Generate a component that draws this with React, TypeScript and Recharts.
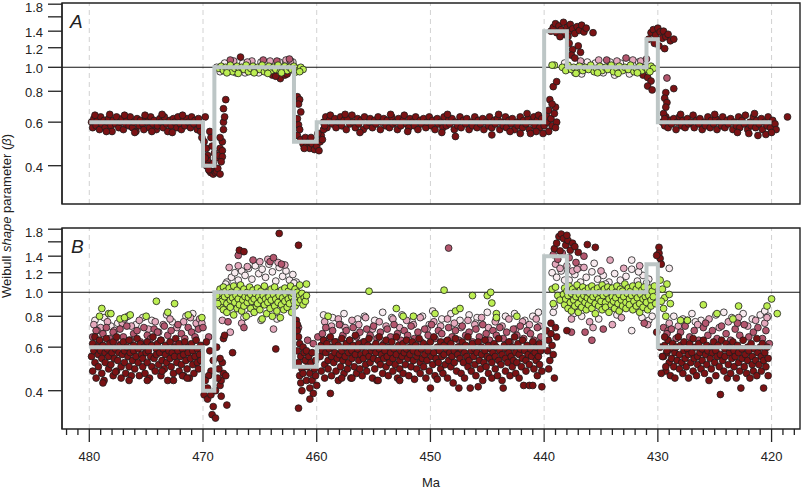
import { ComposedChart, Line, ReferenceArea, ReferenceLine, Scatter, XAxis, YAxis } from "recharts";

type Pt = [number, number];

const majorTicks = [480, 470, 460, 450, 440, 430, 420];
const minorTicks = Array.from({ length: 65 }, (_, i) => 418 + i);
const yTicks = [0.4, 0.6, 0.8, 1.0, 1.2, 1.4, 1.6, 1.8];

// fitted step model (same in both panels)
const stepMa = [480, 470, 469, 462, 460, 440, 438, 431, 430, 420];
const stepBeta = [0.6, 0.4, 1.0, 0.5, 0.6, 1.4, 1.0, 1.3, 0.6, 0.6];

// ---------- panel A ----------
const aRedBands: Pt[] = [
  [479.8,.60],[479.7,.57],[479.6,.62],[479.4,.58],[479.3,.61],[479.1,.56],[479.0,.63],[478.9,.59],[478.7,.61],[478.6,.57],[478.4,.60],[478.3,.62],[478.1,.58],[478.0,.55],[477.9,.61],[477.7,.59],[477.6,.63],[477.4,.57],[477.3,.60],[477.1,.62],[477.0,.56],[476.8,.59],[476.7,.61],[476.5,.58],[476.4,.63],[476.2,.57],[476.1,.60],[475.9,.55],[475.8,.62],[475.6,.58],[475.5,.61],[475.3,.59],[475.2,.56],[475.0,.62],[474.9,.60],[474.7,.57],[474.6,.63],[474.4,.59],[474.3,.61],[474.1,.56],[474.0,.58],[473.8,.62],[473.7,.60],[473.5,.57],[473.4,.63],[473.2,.59],[473.1,.55],[472.9,.61],[472.8,.58],[472.6,.62],[472.5,.60],[472.3,.57],[472.2,.63],[472.0,.59],[471.9,.56],[471.7,.61],[471.6,.58],[471.4,.62],[471.3,.60],[471.1,.57],[471.0,.63],[470.8,.59],[470.7,.61],[470.5,.56],[470.4,.62],[470.3,.58],[479.5,.64],[478.2,.645],[476.9,.64],[475.1,.64],[473.6,.645],[471.8,.64],[478.5,.55],[476.0,.545],[474.5,.55],[472.7,.545],
  [459.4,.60],[459.2,.63],[459.1,.57],[458.9,.61],[458.8,.64],[458.6,.59],[458.4,.62],[458.3,.57],[458.1,.60],[457.9,.63],[457.8,.58],[457.6,.61],[457.4,.56],[457.3,.62],[457.1,.59],[456.9,.64],[456.8,.60],[456.6,.57],[456.4,.62],[456.3,.59],[456.1,.61],[455.9,.56],[455.8,.63],[455.6,.58],[455.4,.60],[455.3,.62],[455.1,.57],[454.9,.61],[454.8,.59],[454.6,.63],[454.4,.56],[454.3,.60],[454.1,.62],[453.9,.58],[453.8,.61],[453.6,.57],[453.4,.63],[453.3,.59],[453.1,.60],[452.9,.56],[452.8,.62],[452.6,.58],[452.4,.61],[452.3,.64],[452.1,.59],[451.9,.57],[451.8,.62],[451.6,.60],[451.4,.58],[451.3,.63],[451.1,.56],[450.9,.61],[450.8,.59],[450.6,.62],[450.4,.57],[450.3,.60],[450.1,.63],[449.9,.58],[449.8,.61],[449.6,.56],[449.4,.62],[449.3,.59],[449.1,.60],[448.9,.57],[448.8,.63],[448.6,.58],[448.4,.61],[448.3,.59],[448.1,.62],[447.9,.56],[447.8,.60],[447.6,.58],[447.4,.63],[447.3,.57],[447.1,.61],[446.9,.59],[446.8,.62],[446.6,.56],[446.4,.60],[446.3,.58],[446.1,.63],[445.9,.57],[445.8,.61],[445.6,.59],[445.4,.62],[445.3,.56],[445.1,.60],[444.9,.58],[444.8,.63],[444.6,.57],[444.4,.61],[444.3,.59],[444.1,.62],[443.9,.56],[443.8,.60],[443.6,.58],[443.4,.63],[443.3,.57],[443.1,.61],[442.9,.59],[442.8,.62],[442.6,.56],[442.4,.60],[442.3,.58],[442.1,.63],[441.9,.57],[441.8,.61],[441.6,.59],[441.4,.62],[441.3,.56],[441.1,.60],[440.9,.63],[440.8,.58],[440.6,.61],[440.5,.64],[440.4,.57],[447.8,.525],[444.6,.533],[456.2,.545],[452.0,.55],[449.0,.545],[443.0,.55],[440.7,.55],[457.5,.645],[453.5,.645],[448.5,.645],[444.0,.645],[441.5,.65],[442.1,.54],[441.2,.54],
  [429.6,.60],[429.4,.58],[429.3,.63],[429.1,.57],[428.9,.61],[428.8,.59],[428.6,.62],[428.4,.56],[428.3,.60],[428.1,.63],[427.9,.58],[427.8,.61],[427.6,.57],[427.4,.62],[427.3,.59],[427.1,.60],[426.9,.64],[426.8,.57],[426.6,.61],[426.4,.59],[426.3,.62],[426.1,.56],[425.9,.60],[425.8,.58],[425.6,.63],[425.4,.57],[425.3,.61],[425.1,.59],[424.9,.62],[424.8,.56],[424.6,.60],[424.4,.58],[424.3,.63],[424.1,.57],[423.9,.61],[423.8,.59],[423.6,.62],[423.4,.56],[423.3,.60],[423.1,.58],[422.9,.63],[422.8,.57],[422.6,.61],[422.4,.59],[422.3,.64],[422.1,.56],[421.9,.60],[421.8,.58],[421.6,.63],[421.4,.57],[421.3,.61],[421.1,.59],[420.9,.62],[420.8,.56],[420.6,.60],[420.4,.58],[420.3,.63],[420.1,.57],[419.9,.61],[419.7,.59],[419.6,.56],[418.6,.63],[421.2,.53],[422.0,.54],[420.5,.535],[420.0,.545],[423.0,.545],[428.0,.645],[425.0,.645],[421.5,.65],
];
const aRedSteps: Pt[] = [
  [470.2,.55],[470.1,.52],[469.9,.50],[469.8,.63],[469.7,.47],[469.6,.44],[469.6,.42],[469.5,.40],[469.4,.38],[469.3,.375],[469.1,.37],[469.0,.38],[468.9,.375],[468.8,.38],[468.7,.39],[468.5,.37],[469.4,.55],[469.3,.52],[469.2,.48],[469.0,.45],[468.9,.43],[468.6,.44],[468.5,.47],[469.1,.41],[469.8,.43],[469.7,.40],[469.5,.385],[468.3,.46],[468.3,.50],[468.5,.52],[468.2,.56],[468.2,.60],[468.1,.63],[468.2,.68],[468.0,.74],[468.3,.435],[468.4,.415],
  [466.7,1.10],[463.9,.93],[463.2,.90],[462.8,.93],[463.6,.92],[462.6,.94],
  [461.7,.76],[461.5,.74],[461.6,.71],[461.4,.66],[461.7,.62],[461.6,.585],[461.5,.56],[461.7,.53],[461.4,.51],[461.2,.49],[461.0,.52],[460.9,.48],[460.7,.50],[460.6,.47],[460.4,.49],[460.2,.465],[460.0,.48],[459.8,.46],[459.7,.50],[459.6,.53],[459.5,.51],[461.1,.47],[460.5,.52],[459.9,.54],[459.4,.56],[459.3,.58],
  [440.2,.62],[440.0,.58],[439.8,.64],[439.7,.60],[439.6,.67],[439.4,.62],[439.3,.58],[439.5,.74],[439.2,.835],[438.9,.875],[439.0,.69],[439.1,.65],[439.3,.71],[438.9,.60],[439.0,.57],[439.6,.55],[440.1,.54],
  [439.4,1.40],[439.2,1.45],[439.0,1.50],[438.9,1.38],[438.7,1.47],[438.5,1.42],[438.3,1.52],[438.2,1.36],[438.0,1.45],[437.8,1.40],[437.7,1.49],[437.5,1.43],[437.3,1.37],[437.1,1.46],[436.9,1.41],[436.7,1.48],[436.5,1.39],[436.3,1.44],[435.7,1.38],[437.9,1.33],[438.6,1.33],[437.8,1.25],[437.5,1.18],[437.6,1.12],[437.0,1.22],[437.3,1.09],[436.8,1.15],
  [431.3,.93],[430.9,.91],[430.6,.88],
  [430.8,1.30],[430.6,1.38],[430.4,1.42],[430.2,1.35],[430.0,1.44],[429.8,1.39],[429.6,1.31],[429.5,1.40],[429.3,1.33],[429.1,1.36],[428.9,1.28],[428.6,1.30],[430.3,1.25],[429.9,1.22],[429.4,1.19],
  [430.9,.84],[430.5,.81],[428.6,.82],[429.3,.79],[429.4,.75],[429.2,.72],[429.3,.69],[429.5,.65],[429.4,.62],
];
const aMauve: Pt[] = [[467.6,1.07],[464.7,1.07],[463.5,1.06],[462.4,1.08],[434.5,1.07],[432.8,1.09],[431.0,1.08],[429.2,.905]];
const aPink: Pt[] = [[467.3,1.06],[465.7,1.06],[464.1,1.06],[462.7,1.07],[462.3,1.06],[466.1,1.05],[436.8,1.06],[435.2,1.07],[433.6,1.06],[432.2,1.07],[431.5,1.06]];
const aPale: Pt[] = [
  [468.8,1.0],[468.5,.96],[467.7,1.04],[467.1,.95],[466.5,1.04],[465.9,1.03],[465.1,.95],[464.5,1.04],[463.7,1.03],[463.3,1.05],[462.9,.95],[462.5,1.04],[462.1,1.05],[468.1,1.04],[466.3,.95],[464.9,1.05],[467.5,1.05],
  [438.2,1.04],[437.3,.95],[436.2,1.05],[435.5,1.04],[434.8,.95],[434.2,1.05],[433.3,1.04],[432.5,.94],[431.7,1.05],[431.2,.95],[436.7,.94],[433.8,.93],
];
const aGreen: Pt[] = [
  [468.6,.99],[468.4,1.01],[468.2,.97],[468.0,1.00],[467.8,.98],[467.6,1.02],[467.4,.96],[467.2,.99],[467.0,1.01],[466.8,.97],[466.6,1.00],[466.4,.98],[466.2,1.02],[466.0,.96],[465.8,.99],[465.6,1.01],[465.4,.97],[465.2,1.00],[465.0,.98],[464.8,1.02],[464.6,.96],[464.4,.99],[464.2,1.01],[464.0,.97],[463.8,1.00],[463.6,.98],[463.4,1.02],[463.2,.96],[463.0,.99],[462.8,1.01],[462.6,.97],[462.4,1.00],[462.2,.98],[462.0,1.01],[461.8,.99],[461.6,.97],[461.4,1.00],[461.2,.98],[467.9,.95],[466.9,.945],[465.5,.95],[464.3,.945],[463.1,.95],[461.9,.955],[461.5,.96],
  [438.4,1.0],[438.1,.97],[437.9,1.02],[437.6,.98],[437.4,1.0],[437.1,.96],[436.9,1.01],[436.6,.97],[436.4,1.0],[436.1,.98],[435.9,1.02],[435.6,.96],[435.4,.99],[435.1,1.01],[434.9,.97],[434.6,1.0],[434.4,.98],[434.1,1.02],[433.9,.96],[433.6,.99],[433.4,1.01],[433.1,.97],[432.9,1.0],[432.6,.98],[432.4,1.02],[432.1,.96],[431.9,.99],[431.6,1.01],[431.4,.97],[431.1,1.0],[430.9,.98],[430.6,1.01],[430.4,.99],[437.2,.945],[435.3,.95],[433.5,.945],[431.8,.95],[430.7,.96],[439.1,1.02],[439.3,1.02],
];

// ---------- panel B ----------
const bRedBands: Pt[] = [
  [479.8,.55],[479.7,.62],[479.7,.48],[479.6,.58],[479.5,.66],[479.5,.52],[479.4,.45],[479.3,.60],[479.2,.56],[479.2,.50],[479.1,.64],[479.0,.58],[478.9,.47],[478.9,.54],[478.8,.61],[478.7,.44],[478.6,.57],[478.6,.52],[478.5,.65],[478.4,.59],[478.3,.49],[478.3,.55],[478.2,.62],[478.1,.51],[478.0,.57],[477.9,.46],[477.9,.63],[477.8,.54],[477.7,.59],[477.6,.48],[477.6,.66],[477.5,.53],[477.4,.57],[477.3,.61],[477.2,.50],[477.2,.45],[477.1,.56],[477.0,.63],[476.9,.52],[476.9,.58],[476.8,.47],[476.7,.60],[476.6,.55],[476.5,.64],[476.5,.50],[476.4,.57],[476.3,.46],[476.2,.53],[476.1,.61],[476.1,.58],[476.0,.49],[475.9,.55],[475.8,.65],[475.7,.52],[475.7,.59],[475.6,.46],[475.5,.62],[475.4,.56],[475.3,.50],[475.3,.54],[475.2,.60],[475.1,.47],[475.0,.57],[474.9,.63],[474.9,.52],[474.8,.58],[474.7,.45],[474.6,.55],[474.5,.61],[474.5,.50],[474.4,.66],[474.3,.54],[474.2,.48],[474.1,.59],[474.1,.56],[474.0,.62],[473.9,.51],[473.8,.57],[473.7,.46],[473.7,.64],[473.6,.53],[473.5,.59],[473.4,.49],[473.3,.56],[473.3,.61],[473.2,.52],[473.1,.44],[473.0,.58],[472.9,.54],[472.9,.63],[472.8,.50],[472.7,.57],[472.6,.47],[472.5,.60],[472.5,.55],[472.4,.65],[472.3,.52],[472.2,.58],[472.1,.48],[472.1,.62],[472.0,.55],[471.9,.51],[471.8,.59],[471.7,.46],[471.7,.56],[471.6,.63],[471.5,.53],[471.4,.49],[471.3,.60],[471.3,.57],[471.2,.45],[471.1,.54],[471.0,.62],[470.9,.51],[470.9,.58],[470.8,.47],[470.7,.55],[470.6,.64],[470.5,.52],[470.5,.59],[470.4,.49],[470.3,.56],[470.2,.61],[470.2,.53],[478.8,.43],[477.7,.476],[476.5,.44],[473.6,.48],[472.6,.44],[471.8,.46],[471.4,.45],[474.9,.44],
  [459.7,.55],[459.6,.61],[459.6,.48],[459.5,.58],[459.4,.64],[459.3,.51],[459.3,.45],[459.2,.57],[459.1,.62],[459.0,.53],[459.0,.49],[458.9,.59],[458.8,.66],[458.7,.55],[458.7,.46],[458.6,.60],[458.5,.52],[458.4,.57],[458.4,.63],[458.3,.48],[458.2,.54],[458.1,.61],[458.1,.44],[458.0,.56],[457.9,.50],[457.8,.65],[457.8,.58],[457.7,.53],[457.6,.47],[457.5,.60],[457.5,.55],[457.4,.62],[457.3,.49],[457.2,.57],[457.2,.52],[457.1,.64],[457.0,.45],[456.9,.58],[456.9,.54],[456.8,.61],[456.7,.50],[456.6,.56],[456.6,.67],[456.5,.47],[456.4,.59],[456.3,.53],[456.3,.62],[456.2,.49],[456.1,.56],[456.0,.60],[456.0,.46],[455.9,.54],[455.8,.63],[455.7,.51],[455.7,.57],[455.6,.48],[455.5,.61],[455.4,.55],[455.4,.65],[455.3,.52],[455.2,.58],[455.1,.45],[455.1,.60],[455.0,.54],[454.9,.49],[454.8,.62],[454.8,.57],[454.7,.44],[454.6,.53],[454.5,.59],[454.5,.66],[454.4,.51],[454.3,.56],[454.2,.47],[454.2,.61],[454.1,.54],[454.0,.58],[453.9,.50],[453.9,.64],[453.8,.55],[453.7,.46],[453.6,.60],[453.6,.52],[453.5,.57],[453.4,.63],[453.3,.48],[453.3,.54],[453.2,.59],[453.1,.51],[453.0,.66],[453.0,.56],[452.9,.45],[452.8,.61],[452.7,.53],[452.7,.49],[452.6,.58],[452.5,.55],[452.4,.62],[452.4,.47],[452.3,.57],[452.2,.51],[452.1,.64],[452.1,.59],[452.0,.54],[451.9,.46],[451.8,.60],[451.8,.56],[451.7,.50],[451.6,.63],[451.5,.53],[451.5,.58],[451.4,.445],[451.3,.61],[451.2,.55],[451.2,.49],[451.1,.57],[451.0,.65],[450.9,.52],[450.9,.47],[450.8,.59],[450.7,.54],[450.6,.62],[450.6,.50],[450.5,.56],[450.4,.45],[450.3,.60],[450.3,.53],[450.2,.58],[450.1,.48],[450.0,.63],[450.0,.41],[449.9,.55],[449.8,.51],[449.7,.57],[449.7,.66],[449.6,.46],[449.5,.54],[449.4,.60],[449.4,.445],[449.3,.52],[449.2,.58],[449.1,.49],[449.1,.63],[449.0,.55],[448.9,.47],[448.8,.61],[448.8,.56],[448.7,.51],[448.6,.59],[448.5,.45],[448.5,.64],[448.4,.53],[448.3,.57],[448.2,.50],[448.2,.62],[448.1,.55],[448.0,.43],[447.9,.58],[447.9,.52],[447.8,.65],[447.7,.48],[447.6,.56],[447.6,.60],[447.5,.41],[447.4,.54],[447.3,.59],[447.3,.47],[447.2,.63],[447.1,.52],[447.0,.57],[447.0,.45],[446.9,.61],[446.8,.55],[446.7,.50],[446.7,.66],[446.6,.53],[446.5,.41],[446.4,.58],[446.4,.48],[446.3,.62],[446.2,.55],[446.1,.51],[446.1,.59],[446.0,.46],[445.9,.57],[445.8,.415],[445.8,.63],[445.7,.53],[445.6,.49],[445.5,.60],[445.5,.56],[445.4,.44],[445.3,.52],[445.2,.58],[445.2,.64],[445.1,.50],[445.0,.55],[444.9,.47],[444.9,.61],[444.8,.54],[444.7,.59],[444.6,.45],[444.6,.52],[444.5,.57],[444.4,.62],[444.3,.49],[444.3,.55],[444.2,.60],[444.1,.46],[444.0,.53],[444.0,.65],[443.9,.58],[443.8,.51],[443.7,.56],[443.7,.44],[443.6,.41],[443.5,.61],[443.4,.54],[443.4,.48],[443.3,.59],[443.2,.52],[443.1,.63],[443.1,.57],[443.0,.46],[442.9,.55],[442.8,.50],[442.8,.60],[442.7,.53],[442.6,.66],[442.5,.47],[442.5,.57],[442.4,.52],[442.3,.62],[442.2,.45],[442.2,.56],[442.1,.59],[442.0,.50],[441.9,.54],[441.9,.64],[441.8,.42],[441.7,.58],[441.6,.48],[441.6,.53],[441.5,.61],[441.4,.56],[441.3,.42],[441.3,.51],[441.2,.59],[441.1,.55],[441.0,.63],[441.0,.42],[440.9,.49],[440.8,.57],[440.7,.53],[440.7,.60],[440.6,.46],[440.5,.55],[440.4,.62],[440.4,.51],[440.3,.58],[440.2,.415],[440.2,.48],[458.8,.39],[457.8,.45],[456.9,.45],[454.6,.44],[452.7,.44],
  [429.5,.55],[429.4,.61],[429.3,.48],[429.2,.57],[429.1,.64],[429.0,.52],[428.9,.46],[428.9,.59],[428.8,.54],[428.7,.62],[428.6,.50],[428.5,.57],[428.5,.45],[428.4,.60],[428.3,.53],[428.2,.66],[428.1,.49],[428.1,.56],[428.0,.61],[427.9,.52],[427.8,.47],[427.7,.58],[427.7,.63],[427.6,.54],[427.5,.50],[427.4,.59],[427.3,.45],[427.3,.56],[427.2,.62],[427.1,.52],[427.0,.57],[426.9,.48],[426.9,.65],[426.8,.54],[426.7,.60],[426.6,.46],[426.5,.55],[426.5,.51],[426.4,.62],[426.3,.57],[426.2,.49],[426.1,.59],[426.1,.53],[426.0,.64],[425.9,.47],[425.8,.56],[425.7,.61],[425.7,.51],[425.6,.58],[425.5,.44],[425.4,.54],[425.3,.60],[425.3,.49],[425.2,.57],[425.1,.63],[425.0,.52],[424.9,.46],[424.9,.58],[424.8,.55],[424.7,.61],[424.6,.50],[424.5,.56],[424.5,.386],[424.4,.64],[424.3,.53],[424.2,.48],[424.1,.59],[424.1,.55],[424.0,.62],[423.9,.45],[423.8,.51],[423.7,.57],[423.7,.60],[423.6,.47],[423.5,.54],[423.4,.63],[423.3,.50],[423.3,.58],[423.2,.55],[423.1,.45],[423.0,.61],[422.9,.52],[422.9,.57],[422.8,.48],[422.7,.41],[422.6,.59],[422.6,.54],[422.5,.64],[422.4,.50],[422.3,.56],[422.2,.47],[422.1,.60],[422.1,.53],[422.0,.58],[421.9,.45],[421.8,.62],[421.7,.51],[421.7,.55],[421.6,.48],[421.5,.59],[421.4,.53],[421.3,.65],[421.3,.46],[421.2,.57],[421.1,.51],[421.0,.60],[420.9,.55],[420.9,.48],[420.8,.62],[420.7,.41],[420.7,.53],[420.6,.57],[420.5,.50],[420.4,.60],[420.3,.54],[420.3,.46],
];
const bRedSteps: Pt[] = [
  [469.9,.385],[469.6,.37],[469.3,.385],[469.1,.345],[469.2,.32],[468.9,.31],[467.9,.35],[468.9,.40],[468.5,.42],[468.4,.44],[468.2,.47],[468.6,.49],[468.3,.52],[468.5,.54],[468.2,.65],[468.1,.67],[467.4,.57],[468.7,.45],[468.0,.46],[469.3,.48],[469.5,.46],[469.8,.44],[469.7,.63],[469.4,.58],[469.1,.53],[468.8,.60],[469.6,.41],[468.4,.38],
  [466.8,1.48],[466.4,1.46],[463.3,1.73],[461.6,1.55],[463.6,.59],
  [461.7,.70],[461.6,.66],[461.5,.62],[461.7,.58],[461.4,.55],[461.6,.52],[461.3,.49],[461.5,.46],[461.4,.43],[461.2,.60],[461.1,.57],[461.0,.53],[461.2,.47],[460.9,.44],[460.8,.50],[460.7,.55],[460.6,.41],[460.6,.47],[460.5,.52],[460.4,.44],[460.3,.39],[460.2,.49],[460.1,.46],[460.0,.42],[460.6,.37],[461.6,.34],[461.3,.40],[460.9,.58],[460.4,.57],[460.1,.53],[461.8,.77],[461.7,.74],
  [439.8,.70],[439.6,.64],[439.7,.58],[439.5,.53],[439.4,.68],[439.6,.49],[439.3,.61],[439.2,.56],[439.0,.72],[439.1,.45],[439.4,.75],[438.9,.66],[438.0,.70],
  [439.1,1.50],[438.9,1.58],[438.7,1.68],[438.5,1.72],[438.3,1.65],[438.1,1.55],[437.9,1.62],[437.7,1.48],[437.5,1.58],[437.3,1.53],[437.0,1.45],[436.2,1.56],[435.5,1.52],[438.6,1.47],[438.0,1.70],
  [429.9,1.52],[429.9,1.44],[429.8,1.37],[430.1,1.41],[429.7,1.30],[430.1,.69],
  [429.8,.60],[429.6,.55],[429.4,.66],[429.3,.50],[429.7,.47],[429.2,.58],
];
const bMauve: Pt[] = [
  [479.7,.66],[479.4,.70],[479.1,.63],[478.8,.68],[478.5,.72],[478.2,.65],[477.9,.69],[477.6,.62],[477.3,.71],[477.0,.66],[476.7,.73],[476.4,.64],[476.1,.68],[475.8,.70],[475.5,.63],[475.2,.72],[474.9,.67],[474.6,.65],[474.3,.71],[474.0,.69],[473.7,.64],[473.4,.73],[473.1,.67],[472.8,.70],[472.5,.62],[472.2,.74],[471.9,.68],[471.6,.65],[471.3,.72],[471.0,.69],[470.7,.66],[470.4,.71],[478.0,.61],[475.0,.60],[472.0,.61],[470.0,.72],[469.5,.66],
  [466.9,1.41],[465.6,1.35],[464.1,1.33],[463.8,1.38],[463.1,1.30],[466.4,.72],[467.8,.76],
  [461.6,.72],[460.8,.64],[460.3,.62],[459.9,.66],
  [459.5,.68],[459.2,.72],[458.9,.65],[458.6,.70],[458.3,.63],[458.0,.74],[457.7,.67],[457.4,.70],[457.1,.64],[456.8,.72],[456.5,.66],[456.2,.69],[455.9,.63],[455.6,.71],[455.3,.67],[455.0,.73],[454.7,.65],[454.4,.69],[454.1,.62],[453.8,.71],[453.5,.66],[453.2,.74],[452.9,.68],[452.6,.64],[452.3,.70],[452.0,.67],[451.7,.73],[451.4,.65],[451.1,.69],[450.8,.63],[450.5,.71],[450.2,.67],[449.9,.74],[449.6,.65],[449.3,.70],[449.0,.68],[448.7,.63],[448.4,.72],[448.1,.66],[447.8,.70],[447.5,.64],[447.2,.73],[446.9,.67],[446.6,.69],[446.3,.63],[446.0,.71],[445.7,.66],[445.4,.74],[445.1,.68],[444.8,.64],[444.5,.70],[444.2,.67],[443.9,.72],[443.6,.65],[443.3,.69],[443.0,.63],[442.7,.71],[442.4,.67],[442.1,.73],[441.8,.65],[441.5,.70],[441.2,.68],[440.9,.64],[440.6,.72],[440.3,.66],[448.4,1.51],
  [439.2,1.42],[438.8,1.36],[438.4,1.44],[437.8,1.38],[437.2,1.32],[436.5,1.40],
  [435.8,.64],[436.4,.69],[434.8,.71],[437.6,.69],[431.2,.75],[429.5,.72],[429.1,.70],
  [429.2,.68],[428.8,.71],[428.4,.65],[428.0,.69],[427.6,.73],[427.2,.66],[426.8,.70],[426.4,.64],[426.0,.72],[425.6,.67],[425.2,.70],[424.8,.65],[424.4,.73],[424.0,.68],[423.6,.64],[423.2,.71],[422.8,.67],[422.4,.74],[422.0,.66],[421.6,.69],[421.2,.72],[420.8,.65],[420.5,.70],[420.2,.62],[425.8,.75],[423.0,.75],
];
const bPink: Pt[] = [
  [479.6,.74],[479.0,.72],[478.4,.76],[477.8,.70],[477.1,.75],[476.3,.73],[475.6,.77],[474.8,.71],[474.2,.76],[473.5,.74],[472.9,.78],[472.3,.72],[471.7,.76],[471.1,.79],[470.6,.75],[470.3,.78],[479.3,.70],[476.9,.78],[473.9,.69],[470.1,.75],[468.3,.77],[467.6,.69],
  [466.9,1.28],[466.1,1.27],[465.0,1.33],[464.3,1.36],[463.4,1.32],[462.8,1.29],[463.8,.71],[466.6,.75],[467.7,1.26],
  [459.3,.76],[458.7,.73],[458.1,.78],[457.5,.72],[456.9,.77],[456.3,.74],[455.7,.79],[455.1,.71],[454.5,.76],[453.9,.73],[453.3,.78],[452.7,.72],[452.1,.77],[451.5,.74],[450.9,.79],[450.3,.71],[449.7,.76],[449.1,.73],[448.5,.78],[447.9,.75],[447.3,.72],[446.7,.77],[446.1,.74],[445.5,.79],[444.9,.72],[444.3,.76],[443.7,.73],[443.1,.78],[442.5,.71],[441.9,.76],[441.3,.74],[440.7,.78],[440.4,.73],
  [439.0,1.30],[438.6,1.25],[438.0,1.28],[437.5,1.22],[436.9,1.26],
  [434.2,1.35],[436.5,1.26],[435.0,1.22],[433.0,1.25],[431.6,1.28],[437.1,1.24],[436.0,.76],[434.0,.74],[435.7,.72],[437.6,.78],[433.2,.79],[430.9,.74],
  [429.0,.75],[428.2,.73],[427.4,.77],[426.5,.74],[425.5,.78],[424.6,.72],[423.8,.76],[422.9,.79],[422.1,.73],[421.4,.77],[420.6,.75],[420.4,.79],
];
const bPale: Pt[] = [
  [479.5,.77],[478.7,.79],[477.5,.75],[476.6,.80],[475.9,.74],[475.3,.79],[474.5,.77],[473.2,.81],[472.7,.76],[471.5,.80],[470.9,.82],[470.5,.74],[478.1,.73],
  [467.9,1.10],[467.5,1.15],[467.2,1.20],[466.9,1.12],[466.6,1.22],[466.3,1.17],[466.0,1.25],[465.7,1.13],[465.4,1.28],[465.1,1.19],[464.8,1.24],[464.5,1.15],[464.2,1.30],[463.9,1.21],[463.6,1.11],[463.3,1.26],[463.0,1.16],[462.7,1.22],[462.4,1.12],[462.1,1.18],[461.8,1.10],[466.4,.79],[464.9,.77],[463.5,.78],[465.9,.82],[468.0,1.08],[462.0,1.09],
  [459.4,.81],[458.6,.79],[457.6,.82],[456.4,.78],[455.8,.80],[454.9,.77],[454.2,.83],[453.4,.79],[452.5,.81],[451.6,.76],[450.7,.80],[449.8,.84],[449.0,.78],[448.2,.82],[447.4,.77],[446.6,.81],[445.9,.79],[445.0,.83],[444.2,.78],[443.4,.80],[442.6,.82],[441.7,.77],[441.0,.80],[440.5,.83],[450.1,.74],[446.0,.75],[457.9,.74],
  [439.3,1.20],[438.9,1.15],[438.5,1.22],[438.2,1.12],[439.2,.83],[439.1,.88],
  [437.8,1.12],[437.3,1.18],[436.8,1.10],[436.3,1.15],[435.8,1.21],[435.3,1.13],[434.8,1.17],[434.3,1.10],[433.8,1.19],[433.3,1.12],[432.8,1.16],[432.3,1.24],[431.8,1.11],[431.3,1.17],[430.8,1.13],[432.3,1.35],[432.3,.70],[436.7,.80],[435.2,.78],[433.6,.81],[431.4,.79],[430.8,.77],[430.5,.80],[437.4,.82],[434.6,1.08],[431.0,1.09],[431.7,1.21],[435.6,1.31],[429.0,1.25],
  [428.6,.80],[427.8,.78],[427.0,.82],[426.2,.77],[424.9,.81],[424.2,.83],[423.5,.79],[422.5,.82],[421.7,.78],[421.0,.81],[420.6,.84],[420.3,.80],[426.7,.76],
];
const bGreen: Pt[] = [
  [478.9,.86],[478.3,.82],[478.1,.82],[477.3,.78],[476.9,.79],[476.4,.81],[475.0,.80],[474.1,.92],[473.1,.83],[472.5,.90],[471.3,.81],[470.1,.79],[479.1,.80],
  [468.6,.95],[468.5,1.03],[468.5,.88],[468.4,.99],[468.3,.92],[468.2,1.05],[468.2,.85],[468.1,.96],[468.0,1.01],[467.9,.90],[467.9,.83],[467.8,.98],[467.7,1.04],[467.6,.93],[467.6,.87],[467.5,1.00],[467.4,.95],[467.3,.81],[467.3,1.06],[467.2,.91],[467.1,.97],[467.0,.86],[467.0,1.02],[466.9,.94],[466.8,.89],[466.7,1.07],[466.7,.99],[466.6,.84],[466.5,.93],[466.4,1.03],[466.4,.88],[466.3,.96],[466.2,.80],[466.1,1.00],[466.1,.91],[466.0,.95],[465.9,1.05],[465.8,.86],[465.8,.98],[465.7,.92],[465.6,1.02],[465.5,.83],[465.5,.94],[465.4,.99],[465.3,.88],[465.2,1.04],[465.2,.90],[465.1,.96],[465.0,.85],[464.9,1.01],[464.9,.93],[464.8,.78],[464.7,.97],[464.6,1.06],[464.6,.89],[464.5,.94],[464.4,.82],[464.3,1.00],[464.3,.91],[464.2,.96],[464.1,.86],[464.0,1.03],[464.0,.93],[463.9,.80],[463.8,.98],[463.7,.88],[463.7,1.05],[463.6,.94],[463.5,.84],[463.4,1.00],[463.4,.91],[463.3,.97],[463.2,.79],[463.1,1.02],[463.1,.89],[463.0,.95],[462.9,.85],[462.8,1.04],[462.8,.92],[462.7,.98],[462.6,.87],[462.5,1.01],[462.5,.94],[462.4,.90],[462.3,1.06],[462.2,.96],[462.2,.83],[462.1,.99],[462.0,.92],[461.9,1.03],[461.9,.88],[461.8,.95],[461.7,1.00],[461.6,.91],[461.5,.97],[461.5,1.07],[461.4,.93],[461.3,.99],[461.2,.89],[461.1,.95],[461.0,.92],[468.8,.97],[468.7,.90],[460.9,1.08],[460.9,.97],
  [455.4,1.01],[448.8,1.02],[446.3,.97],[445.0,.97],[444.7,1.00],[444.6,.905],[453.0,.86],[452.4,.80],[451.5,.80],[449.6,.82],[447.8,.84],[447.4,.86],[444.2,.82],[444.2,.79],[442.4,.80],[459.0,.80],
  [439.3,1.03],[439.0,1.05],[438.8,.97],[438.6,.93],[439.2,.90],
  [438.3,.98],[438.2,1.04],[438.2,.89],[438.1,.94],[438.0,1.01],[437.9,.86],[437.9,.97],[437.8,1.06],[437.7,.91],[437.6,.99],[437.6,.84],[437.5,1.03],[437.4,.93],[437.3,.88],[437.3,1.00],[437.2,.96],[437.1,1.07],[437.0,.90],[437.0,.83],[436.9,.98],[436.8,1.02],[436.7,.94],[436.7,.87],[436.6,1.05],[436.5,.97],[436.4,.91],[436.4,1.01],[436.3,.85],[436.2,.95],[436.1,1.04],[436.1,.89],[436.0,.99],[435.9,.93],[435.8,1.06],[435.8,.86],[435.7,.96],[435.6,1.02],[435.5,.90],[435.5,.82],[435.4,.98],[435.3,1.04],[435.2,.94],[435.2,.88],[435.1,1.00],[435.0,.92],[434.9,1.07],[434.9,.85],[434.8,.97],[434.7,1.03],[434.6,.91],[434.6,.87],[434.5,.99],[434.4,1.05],[434.3,.94],[434.3,.83],[434.2,1.01],[434.1,.89],[434.0,.96],[434.0,1.04],[433.9,.92],[433.8,.86],[433.7,1.00],[433.7,.95],[433.6,1.06],[433.5,.90],[433.4,.98],[433.4,.84],[433.3,1.03],[433.2,.93],[433.1,.88],[433.1,1.01],[433.0,.96],[432.9,1.08],[432.8,.91],[432.8,.86],[432.7,.99],[432.6,1.04],[432.5,.94],[432.5,.89],[432.4,1.01],[432.3,.97],[432.2,.85],[432.2,1.06],[432.1,.92],[432.0,.99],[431.9,1.03],[431.9,.88],[431.8,.95],[431.7,1.07],[431.6,.90],[431.6,.83],[431.5,.98],[431.4,1.02],[431.3,.94],[431.3,.87],[431.2,1.05],[431.1,.96],[431.0,.91],[431.0,1.00],[430.9,.85],[430.8,.97],[430.7,1.04],[430.6,.93],[430.6,.88],[430.5,1.01],[430.4,.96],[430.3,1.06],[430.2,.90],
  [429.8,1.12],[429.6,1.03],[429.4,.95],[429.2,1.08],[429.0,.98],[428.9,.90],[429.5,.86],[429.7,.92],[429.3,.80],
  [426.0,.89],[422.9,.88],[420.0,.94],[419.5,.82],[420.4,.88],[423.4,.78],[424.8,.82],[428.0,.77],[427.4,.77],
];

const colors = {
  red: "#7b1214",
  mauve: "#b4566e",
  pink: "#e4a9bd",
  pale: "#f8ebef",
  green: "#bcee52",
};

const toRows = (pts: Pt[]) => pts.map(([ma, b]) => ({ ma, b }));
const stepData = stepMa.map((ma, i) => ({ ma, b: stepBeta[i] }));

// drawing order: light points first, dark red over them, green cloud last
const panelA = [
  { key: "pale", data: aPale },
  { key: "pink", data: aPink },
  { key: "mauve", data: aMauve },
  { key: "red", data: [...aRedBands, ...aRedSteps] },
  { key: "green", data: aGreen },
];
const panelB = [
  { key: "pale", data: bPale },
  { key: "pink", data: bPink },
  { key: "mauve", data: bMauve },
  { key: "red", data: [...bRedBands, ...bRedSteps] },
  { key: "green", data: bGreen },
];

const ink = "#222";

const dot = (fill: string) => (p: any) => (
  <circle cx={p.cx} cy={p.cy} r={3.4} fill={fill} stroke="#1d1d1d" strokeWidth={0.8} />
);

const renderXTick = (p: any) => {
  const v = p.payload.value;
  const major = v % 10 === 0;
  return (
    <g>
      <line x1={p.x} x2={p.x} y1={p.y} y2={p.y + (major ? 13 : 6)} stroke={ink} strokeWidth={1.3} />
      {major && (
        <text x={p.x} y={p.y + 32} textAnchor="middle" fontSize={13} fill={ink}>
          {v}
        </text>
      )}
    </g>
  );
};

const renderYTick = (p: any) => {
  const v = p.payload.value;
  if (v === 1.6) return <g />;
  // the top label sits a little lower so it stays inside the page
  return (
    <text x={p.x} y={p.y + (v === 1.8 ? 8 : 6)} textAnchor="end" fontSize={13} fill={ink}>
      {v.toFixed(1)}
    </text>
  );
};

function Panel({ groups, top, height, showX }: { groups: typeof panelA; top: number; height: number; showX: boolean }) {
  return (
    <div style={{ position: "absolute", left: 0, top }}>
      <ComposedChart width={802} height={height} margin={{ top: 13, right: 2, bottom: showX ? 0 : 4, left: 0 }}>
        <XAxis
          dataKey="ma"
          type="number"
          domain={[417.5, 482.4]}
          reversed
          allowDataOverflow
          hide={!showX}
          height={61}
          ticks={minorTicks}
          interval={0}
          tickSize={0}
          tickMargin={0}
          tickLine={false}
          axisLine={false}
          tick={renderXTick}
        />
        <YAxis
          dataKey="b"
          type="number"
          scale="log"
          domain={[0.28, 1.82]}
          allowDataOverflow
          ticks={yTicks}
          interval={0}
          width={62}
          tickSize={14}
          tickMargin={5}
          tick={renderYTick}
          axisLine={{ stroke: ink, strokeWidth: 1.3 }}
          tickLine={{ stroke: ink, strokeWidth: 1.3 }}
        />
        {majorTicks.map((v) => (
          <ReferenceLine key={v} x={v} stroke="#d2d2d2" strokeDasharray="5 4" zIndex={-50} />
        ))}
        <ReferenceLine y={1} stroke="#111" strokeWidth={1.1} zIndex={-40} />
        {groups.map((g) => (
          <Scatter
            key={g.key}
            data={toRows(g.data)}
            fill={colors[g.key as keyof typeof colors]}
            shape={dot(colors[g.key as keyof typeof colors])}
            isAnimationActive={false}
          />
        ))}
        <Line
          data={stepData}
          dataKey="b"
          type="stepAfter"
          stroke="#bdc6c6"
          strokeWidth={4}
          dot={false}
          activeDot={false}
          isAnimationActive={false}
          zIndex={700}
        />
        <ReferenceArea x1={417.5} x2={482.4} y1={0.28} y2={1.82} fill="none" stroke={ink} strokeWidth={1.4} zIndex={800} />
      </ComposedChart>
    </div>
  );
}

export default function App() {
  return (
    <div
      style={{
        position: "absolute",
        left: 0,
        top: 0,
        width: 802,
        height: 490,
        overflow: "hidden",
        background: "#fff",
        fontFamily: "'Liberation Sans', Arial, Helvetica, sans-serif",
      }}
    >
      <Panel groups={panelA} top={-10} height={218} showX={false} />
      <Panel groups={panelB} top={215} height={275} showX />
      <svg width={802} height={490} style={{ position: "absolute", left: 0, top: 0, pointerEvents: "none" }}>
        <text x={70} y={28} fontSize={19} fontStyle="italic" fill={ink}>A</text>
        <text x={71} y={253} fontSize={19} fontStyle="italic" fill={ink}>B</text>
        <text transform="translate(11,216) rotate(-90)" textAnchor="middle" fontSize={13} fill={ink}>
          Weibull <tspan fontStyle="italic">shape</tspan> parameter (<tspan fontStyle="italic">β</tspan>)
        </text>
        <text x={431} y={487} textAnchor="middle" fontSize={13} fill={ink}>Ma</text>
      </svg>
    </div>
  );
}
